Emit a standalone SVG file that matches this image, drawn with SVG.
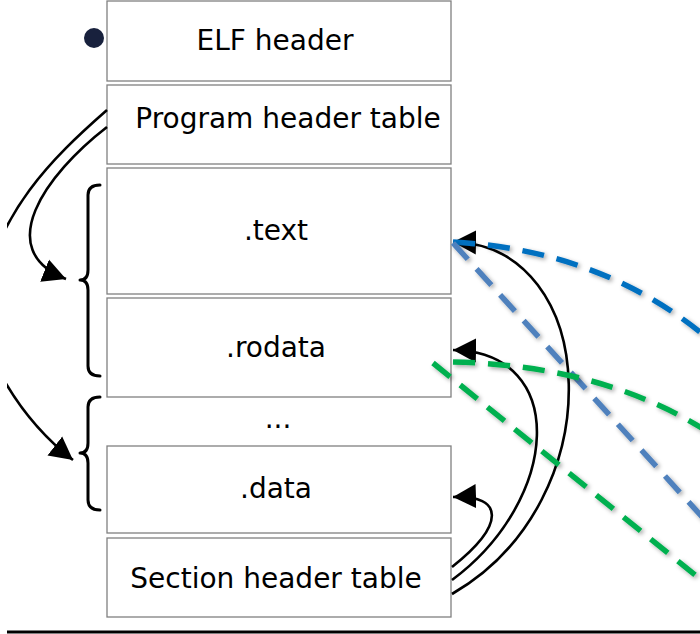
<svg xmlns="http://www.w3.org/2000/svg" width="700" height="634" viewBox="0 0 700 634">
<style>
.box{fill:#fff;stroke:#808080;stroke-width:1.3}
.lbl{font-family:"DejaVu Sans","Noto Sans",sans-serif;font-size:28px;fill:#000}
.conn{fill:none;stroke:#000;stroke-width:2.6}
.brace{fill:none;stroke:#000;stroke-width:3;stroke-linejoin:round;stroke-linecap:round}
.dash{fill:none;stroke-width:5.5;stroke-dasharray:22 13;filter:url(#sh)}
</style>
<defs>
<marker id="ah" markerUnits="userSpaceOnUse" markerWidth="26" markerHeight="26" viewBox="0 0 26 26" refX="23" refY="13" orient="auto">
<path d="M0,1 L23,13 L0,25 Z" fill="#000"/>
</marker>
<filter id="sh" x="-20%" y="-20%" width="140%" height="140%">
<feDropShadow dx="2" dy="2" stdDeviation="2" flood-color="#000" flood-opacity="0.35"/>
</filter>
<clipPath id="clipL"><rect x="7" y="0" width="700" height="634"/></clipPath>
</defs>
<rect width="700" height="634" fill="#fff"/>
<g id="elf-header">
<rect class="box" x="107" y="1" width="344" height="80"/>
<circle cx="94" cy="38" r="10" fill="#18213d"/>
<text class="lbl" x="275" y="50" text-anchor="middle">ELF header</text>
</g>
<g id="program-header-table">
<rect class="box" x="107" y="85" width="344" height="79"/>
<text class="lbl" x="288" y="128" text-anchor="middle">Program header table</text>
</g>
<g id="text-section">
<rect class="box" x="107" y="168" width="344" height="126"/>
<text class="lbl" x="276" y="240" text-anchor="middle">.text</text>
</g>
<g id="rodata-section">
<rect class="box" x="107" y="298" width="344" height="99"/>
<text class="lbl" x="276" y="357" text-anchor="middle">.rodata</text>
</g>
<g id="ellipsis">
<text class="lbl" x="278" y="428" text-anchor="middle">...</text>
</g>
<g id="data-section">
<rect class="box" x="107" y="446" width="344" height="87"/>
<text class="lbl" x="276" y="498" text-anchor="middle">.data</text>
</g>
<g id="section-header-table">
<rect class="box" x="107" y="538" width="344" height="79"/>
<text class="lbl" x="276" y="588" text-anchor="middle">Section header table</text>
</g>
<g id="braces">
<path class="brace" d="M100,185 Q88,185 88,195 L88,270 Q88,280 80,280 Q88,280 88,290 L88,366 Q88,376 100,376"/>
<path class="brace" d="M100,397 Q88,397 88,407 L88,443 Q88,453 80,453 Q88,453 88,463 L88,500 Q88,510 100,510"/>
</g>
<g id="connectors">
<path class="conn" clip-path="url(#clipL)" d="M107,110 C50,160 0,210 -20,300 C-25,340 15,415 73,460" marker-end="url(#ah)"/>
<path class="conn" d="M107,127 C45,175 -8,250 66,279" marker-end="url(#ah)"/>
<path class="conn" d="M452,594 C615,500 600,245 453,242" marker-end="url(#ah)"/>
<path class="conn" d="M452,580 C560,500 570,352 453,350" marker-end="url(#ah)"/>
<path class="conn" d="M452,567 C505,525 505,495 453,497" marker-end="url(#ah)"/>
<path class="dash" stroke="#0070c0" d="M453,242 Q600,250 705,336"/>
<path class="dash" stroke="#4f81bd" d="M453,243 L705,520"/>
<path class="dash" stroke="#00b050" d="M453,362 Q600,365 705,430"/>
<path class="dash" stroke="#00b050" d="M433,363 L705,583"/>
</g>
<line x1="7" y1="632" x2="700" y2="632" stroke="#000" stroke-width="3"/>
</svg>
